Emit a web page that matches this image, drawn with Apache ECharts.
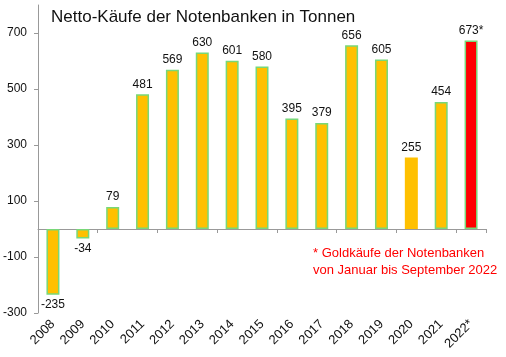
<!DOCTYPE html>
<html><head><meta charset="utf-8">
<script src="https://cdn.jsdelivr.net/npm/echarts@6/dist/echarts.min.js"></script>
<style>html,body{margin:0;padding:0;background:#fff}#c{width:506px;height:357px}</style>
</head><body><div id="c"></div>
<script>
const categories = ['2008','2009','2010','2011','2012','2013','2014','2015','2016','2017','2018','2019','2020','2021','2022*'];
const values = [-235,-34,79,481,569,630,601,580,395,379,656,605,255,454,673];
const valueLabels = ['-235','-34','79','481','569','630','601','580','395','379','656','605','255','454','673*'];
const yTickValues = [-300,-100,100,300,500,700];
const titleText = 'Netto-Käufe der Notenbanken in Tonnen';
const noteLines = ['* Goldkäufe der Notenbanken', 'von Januar bis September 2022'];

const FONT = '"Liberation Sans", Arial, sans-serif';
const chart = echarts.init(document.getElementById('c'), null, {renderer:'canvas'});
const data = values.map((v,i) => {
  const last = i === values.length - 1;
  const noBorder = categories[i] === '2020';
  return {
    value: v,
    itemStyle: {
      color: last ? '#ff0000' : '#ffc000',
      borderColor: noBorder ? 'transparent' : '#78d878',
      borderWidth: noBorder ? 0 : 1.5
    },
    label: { position: v < 0 ? 'bottom' : 'top' }
  };
});
chart.setOption({
  animation: false,
  title: {
    text: titleText, left: 46, top: 4,
    textStyle: { fontFamily: FONT, fontSize: 17, fontWeight: 'normal', color: '#111' }
  },
  graphic: [{
    type: 'text', left: 313, top: 245,
    style: { text: noteLines.join('\n'), fill: '#ff0000', font: '13px ' + FONT, lineHeight: 17 }
  }],
  grid: { left: 33, right: 20, top: 5, bottom: 44, containLabel: false },
  xAxis: [{
    type: 'category', data: categories, position: 'bottom',
    axisLine: { onZero: true, lineStyle: { color: '#999' } },
    axisTick: { show: true, length: 4, inside: false, lineStyle: { color: '#999' } },
    axisLabel: { show: false }
  }, {
    type: 'category', data: categories, position: 'bottom',
    axisLine: { show: false, onZero: false },
    axisTick: { show: false },
    axisLabel: { rotate: 45, margin: 9, fontFamily: FONT, fontSize: 13, color: '#111' }
  }],
  yAxis: {
    type: 'value', min: -300, max: 800,
    splitLine: { show: false },
    axisLine: { show: true, lineStyle: { color: '#999' } },
    axisTick: { show: true, length: 4, customValues: yTickValues, lineStyle: { color: '#999' } },
    axisLabel: { customValues: yTickValues, margin: 11, fontFamily: FONT, fontSize: 12, color: '#111' }
  },
  series: [{
    type: 'bar', xAxisIndex: 0, data: data, barWidth: 13,
    label: {
      show: true, distance: 4, fontFamily: FONT, fontSize: 12, color: '#111',
      formatter: p => valueLabels[p.dataIndex]
    }
  }]
});
</script></body></html>
